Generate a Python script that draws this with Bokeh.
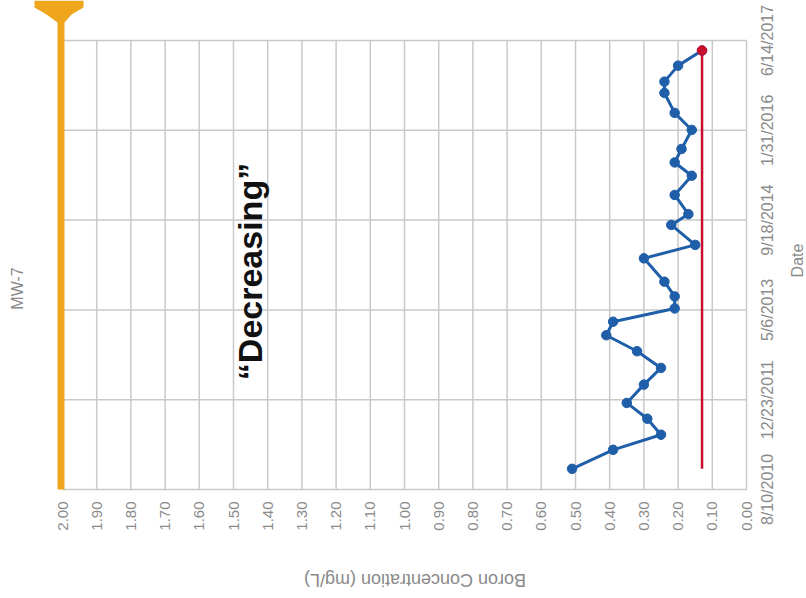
import pandas as pd
from math import pi
from bokeh.plotting import figure
from bokeh.models import Range1d, Label, PolyAnnotation, ColumnDataSource
from bokeh.core.properties import value
from bokeh.embed import file_html
from bokeh.resources import INLINE

# ---------------- data ----------------
sample_dates = ["2010-12-03", "2011-03-19", "2011-06-11", "2011-09-08", "2011-12-05",
                "2012-03-16", "2012-06-17", "2012-09-18", "2012-12-16", "2013-03-01",
                "2013-05-14", "2013-07-20", "2013-10-10", "2014-02-17", "2014-05-03",
                "2014-08-22", "2014-10-21", "2015-02-05", "2015-05-23", "2015-08-05",
                "2015-10-19", "2016-02-02", "2016-05-07", "2016-08-26", "2016-10-28",
                "2017-01-25", "2017-04-19"]
boron = [0.51, 0.39, 0.25, 0.29, 0.35,
         0.30, 0.25, 0.32, 0.41, 0.39,
         0.21, 0.21, 0.24, 0.30, 0.15,
         0.22, 0.17, 0.21, 0.16, 0.21,
         0.19, 0.16, 0.21, 0.24, 0.24,
         0.20, 0.13]
trend_value = 0.13
conc_ticks = [0.0, 0.1, 0.2, 0.3, 0.4, 0.5, 0.6, 0.7, 0.8, 0.9, 1.0,
              1.1, 1.2, 1.3, 1.4, 1.5, 1.6, 1.7, 1.8, 1.9, 2.0]
conc_tick_labels = [f"{v:.2f}" for v in conc_ticks]
date_ticks = ["2010-08-10", "2011-12-23", "2013-05-06", "2014-09-18", "2016-01-31", "2017-06-14"]
date_tick_labels = ["8/10/2010", "12/23/2011", "5/6/2013", "9/18/2014", "1/31/2016", "6/14/2017"]


def ms(d):
    return pd.Timestamp(d).value / 1e6


dates = pd.to_datetime(sample_dates)
src = ColumnDataSource(dict(x=boron, y=dates))
tick_ms = [ms(d) for d in date_ticks]
t0, t1 = tick_ms[0], tick_ms[-1]
c_lo, c_hi = conc_ticks[0], conc_ticks[-1]

FONT = "Liberation Sans"
GRAY = "#8a8a8a"
GRID = "#c9c9c9"

# the chart is shown rotated: concentration runs right-to-left along the
# bottom, dates run bottom-to-top.  Plotting box: x 62..746, y 40..489 px.
W, H = 806, 598
PX_PER_C = 684 / (c_hi - c_lo)
PX_PER_T = 449 / (t1 - t0)
x_range = Range1d(c_hi + 62 / PX_PER_C, c_hi - (W - 62) / PX_PER_C)
y_range = Range1d(t0 - (H - 489) / PX_PER_T, t0 + 489 / PX_PER_T)

p = figure(frame_width=W, frame_height=H,
           x_range=x_range, y_range=y_range,
           x_axis_location=None, y_axis_location=None, y_axis_type="datetime",
           output_backend="svg", toolbar_location=None,
           min_border=0, background_fill_color="white", border_fill_color="white")
p.outline_line_color = None
p.grid.visible = False


def dx(px):
    return c_hi - (px - 62) / PX_PER_C


def dy(py):
    return t0 + (489 - py) / PX_PER_T


# grid lines bounded to the plotting box
n_c, n_t = len(conc_ticks), len(tick_ms)
p.segment(x0=conc_ticks, x1=conc_ticks, y0=[t0] * n_c, y1=[t1] * n_c,
          line_color=GRID, line_width=1.5)
p.segment(x0=[c_lo] * n_t, x1=[c_hi] * n_t, y0=tick_ms, y1=tick_ms,
          line_color=GRID, line_width=1.5)

# tick labels (rotated, read bottom-to-top)
p.text(x=conc_ticks, y=[dy(501)] * n_c, text=conc_tick_labels, angle=pi / 2,
       text_align="right", text_baseline="middle",
       text_font=value(FONT), text_font_size="15px", text_color=GRAY)
p.text(x=[dx(767)] * n_t, y=tick_ms, text=date_tick_labels, angle=pi / 2,
       text_align="center", text_baseline="middle",
       text_font=value(FONT), text_font_size="16px", text_color=GRAY)

# orange highlighter bar
bar_px = [(57, 489), (64, 489), (64, 22), (71, 14), (83, 7), (83, 0),
          (34, 0), (34, 7), (46, 14), (57, 22)]
p.add_layout(PolyAnnotation(xs=[dx(a) for a, b in bar_px], ys=[dy(b) for a, b in bar_px],
                            fill_color="#efa51c", fill_alpha=1.0, line_color=None))

# series
p.line([trend_value, trend_value], [dates[0], dates[-1]], line_color="#c8102e", line_width=2.5)
p.line("x", "y", source=src, line_color="#1f5ea8", line_width=3)
p.scatter("x", "y", source=src, size=9.5, fill_color="#1f5ea8", line_color="#1f5ea8")
p.scatter([boron[-1]], [dates[-1]], size=9.5, fill_color="#c8102e", line_color="#c8102e")

# titles
p.add_layout(Label(x=dx(17), y=dy(288), text="MW-7", angle=pi / 2,
                   text_align="center", text_baseline="middle",
                   text_font=FONT, text_font_size="16px", text_color=GRAY))
p.add_layout(Label(x=dx(797), y=dy(260), text="Date", angle=pi / 2,
                   text_align="center", text_baseline="middle",
                   text_font=FONT, text_font_size="16px", text_color=GRAY))
p.add_layout(Label(x=dx(412), y=dy(579), text="Boron Concentration  (mg/L)", angle=pi,
                   text_align="center", text_baseline="middle",
                   text_font=FONT, text_font_size="18px", text_color=GRAY))
p.add_layout(Label(x=dx(249), y=dy(271), text="\u201cDecreasing\u201d", angle=pi / 2,
                   text_align="center", text_baseline="middle",
                   text_font=FONT, text_font_style="bold",
                   text_font_size="34px", text_color="#111111"))

open("out.html", "w").write(file_html(p, INLINE))
